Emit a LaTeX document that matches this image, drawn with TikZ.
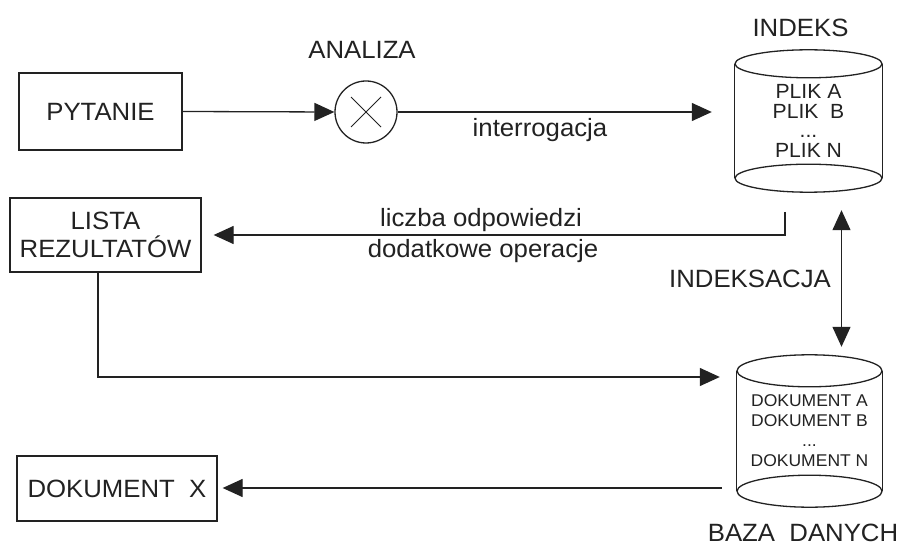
\documentclass[tikz,border=0pt]{standalone}
\usepackage{fontspec}
\setmainfont[FakeStretch=1.03]{Liberation Sans}
\usetikzlibrary{arrows.meta,positioning,calc}
\definecolor{ink}{HTML}{222222}
\tikzset{
  edge/.style={draw=ink, line width=1.3pt},
  link/.style={edge, -{Triangle[length=20pt,width=18pt]}},
  both/.style={edge, {Triangle[length=20pt,width=18pt]}-{Triangle[length=20pt,width=18pt]}},
  box/.style={rectangle, edge, inner sep=0pt, align=center, text=ink,
    font=\fontsize{25}{28}\selectfont},
  dbody/.style={rectangle, inner sep=0pt, align=center, text=ink},
  lbl/.style={inner sep=0pt, anchor=base, text=ink, font=\fontsize{25}{28}\selectfont},
}
\newcommand{\cylout}[3]{% node, rx, ry
  \draw[edge] (#1.north west) -- (#1.south west) (#1.north east) -- (#1.south east);
  \draw[edge] (#1.north) ellipse ({#2} and {#3});
  \draw[edge] (#1.south) ellipse ({#2} and {#3});}

\begin{document}
\begin{tikzpicture}[x=1pt,y=-1pt]
  \useasboundingbox[fill=white] (0,0) rectangle (901,545);
  % pytanie -> analiza -> indeks
  \node[box, minimum width=163pt, minimum height=77pt] (pytanie) at (100.5,111.5) {PYTANIE};
  \node[circle, edge, minimum size=62pt, inner sep=0pt] (analiza) at (366,112) {};
  \draw[draw=ink, line width=0.9pt]
    ([shift={(-15pt,-15pt)}]analiza.center) -- ([shift={(15pt,15pt)}]analiza.center)
    ([shift={(-15pt,15pt)}]analiza.center) -- ([shift={(15pt,-15pt)}]analiza.center);
  \node[lbl] (analizat) at (362,59) {ANALIZA};
  \node[dbody, minimum width=147pt, minimum height=114pt,
    font=\fontsize{20.5}{19.5}\selectfont] (indeks) at (808.5,121)
    {PLIK A\\PLIK~~B\\...\\PLIK N};
  \cylout{indeks}{73.5pt}{14pt}
  \node[lbl] (indekst) at (800.5,37) {INDEKS};
  \draw[link] (pytanie.east) -- (analiza.west);
  \draw[link, shorten >=23pt] (analiza.east) -- (analiza.east -| indeks.west);
  \node[lbl] (interr) at (540,137) {interrogacja};
  % wyniki
  \node[box, minimum width=191pt, minimum height=74pt] (lista) at (105.5,235) {LISTA\\REZULTATÓW};
  \coordinate (wyj) at (785,212);
  \draw[link, shorten >=12pt] (wyj) |- (lista.east);
  \node[lbl] (liczba) at (481,226) {liczba odpowiedzi};
  \node[lbl] (dodatk) at (483,258) {dodatkowe operacje};
  % baza danych
  \node[dbody, minimum width=145pt, minimum height=120pt,
    font=\fontsize{17}{20}\selectfont] (baza) at (809.5,431)
    {DOKUMENT A\\DOKUMENT B\\...\\DOKUMENT N};
  \cylout{baza}{72.5pt}{16pt}
  \node[lbl] (bazat) at (803,541) {BAZA~~DANYCH};
  \draw[both, shorten <=32pt, shorten >=24pt]
    ([xshift=33pt]indeks.south) -- ([xshift=33pt]indeks.south |- baza.north);
  \node[lbl] (indeksacja) at (750,287) {INDEKSACJA};
  \draw[link, shorten >=17pt] ([xshift=-7.5pt]lista.south) |- ([yshift=54pt]baza.west);
  % dokument
  \node[box, minimum width=200pt, minimum height=65pt] (dokx) at (117,488.5) {DOKUMENT~~X};
  \draw[link, shorten <=15pt, shorten >=5pt]
    ([yshift=-57pt]baza.west) -- ([yshift=-57pt]baza.west -| dokx.east);
\end{tikzpicture}
\end{document}
